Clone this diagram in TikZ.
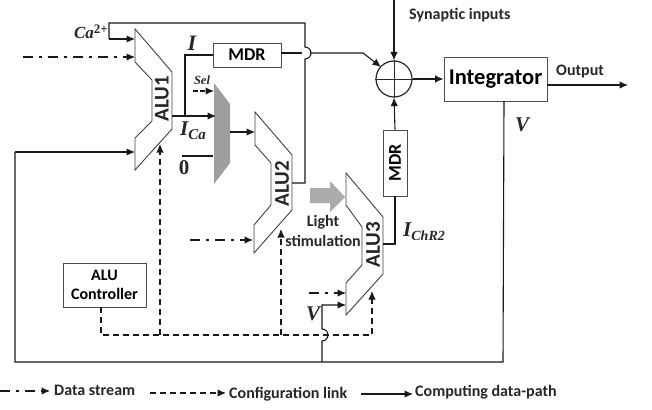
\documentclass[tikz,border=0pt]{standalone}
\usepackage{fontspec}
\setmainfont{Carlito}
\newfontfamily\mathf{Liberation Serif}
\usetikzlibrary{arrows.meta}
\tikzset{
 x=1pt,y=-1pt,
 wire/.style={line width=1.1pt,draw=black!90},
 arr/.style={wire,-{Latex[length=8.5pt,width=7.5pt]}},
 dasharr/.style={arr,dash pattern=on 6pt off 4pt},
 dotarr/.style={arr,dash pattern=on 10pt off 6pt on 3pt off 6pt},
 unit/.style={draw=black!75,line width=0.9pt,fill=white},
 boxn/.style={draw=black!70,line width=0.9pt,fill=white,inner sep=0pt,font=\bfseries},
 lab/.style={font=\bfseries,text=black!85,inner sep=0pt},
 mlab/.style={font=\mathf\bfseries\itshape,text=black!85,inner sep=0pt},
}
\begin{document}
\begin{tikzpicture}
\useasboundingbox (0,0) rectangle (652,409);
% units
\draw[unit] (135,29)--(172,72)--(172,129)--(135,170)--(135,138)--(152,121)--(152,80)--(135,62)--cycle;
\draw[unit] (255,112)--(292,155)--(292,210)--(254,253)--(254,225)--(271,205)--(271,163)--(255,145)--cycle;
\draw[unit] (346,173)--(383,217)--(383,274)--(346,315)--(346,283)--(362,265)--(362,227)--(346,205)--cycle;
\fill[black!38] (214,83)--(230,104)--(230,163)--(214,184)--cycle;
\node[lab,rotate=90,font=\bfseries\fontsize{21}{21}\selectfont] (alua) at (162,99) {ALU1};
\node[lab,rotate=90,font=\bfseries\fontsize{21}{21}\selectfont] (alub) at (282,184) {ALU2};
\node[lab,rotate=90,font=\bfseries\fontsize{21}{21}\selectfont] (aluc) at (373,245) {ALU3};
\node[boxn,minimum width=68pt,minimum height=24pt,font=\bfseries\fontsize{18}{18}\selectfont] (mdra) at (247,55) {MDR};
\node[boxn,rotate=90,minimum width=66pt,minimum height=24pt,font=\bfseries\fontsize{18}{18}\selectfont] (mdrb) at (395,163) {MDR};
\node[boxn,minimum width=103pt,minimum height=44pt,font=\bfseries\fontsize{22.5}{22}\selectfont] (integ) at (495.5,79) {Integrator};
\node[boxn,minimum width=83pt,minimum height=44pt,align=center,font=\bfseries\fontsize{16}{19.5}\selectfont] (ctrl) at (104.5,285) {ALU\\Controller};
\node[draw=black!85,line width=1.2pt,circle,minimum size=36pt,inner sep=0pt] (add) at (394,79) {};
\draw[line width=0.8pt,black!85] (add.west)--(add.east) (add.north)--(add.south);
% coordinates
\coordinate (synin) at (394,0);
\coordinate (cat) at (109,39);
\coordinate (cb) at (109,23);
\coordinate (cc) at (305,23);
\coordinate (cd) at (305,183);
\coordinate (ala) at (135,39);
\coordinate (alb) at (135,57);
\coordinate (dda) at (23,57);
\coordinate (alc) at (135,152);
\coordinate (fb) at (15,152);
\coordinate (fc) at (15,362);
\coordinate (fd) at (503,362);
\coordinate (fe) at (504,101);
\coordinate (muxi) at (216,116);
\coordinate (alo) at (172,116);
\coordinate (ii) at (185,116);
\coordinate (ij) at (185,55);
% wires
\draw[arr] (synin)--(add.north);
\draw[arr] (add.east)--(integ.west);
\draw[arr] (mdrb.east)--(add.south);
\draw[wire] (383,244)--(395,244)--(mdrb.west);
\draw[arr] (547,85)--(628,85);
\draw[wire] (mdra.east |- 0,53)--(302,53);
\draw[arr] (310,53)--(363,53)--(381,67);
\draw[wire] (292,183)--(cd)--(305,59) arc[start angle=-90,end angle=90,radius=6pt]--(cc)--(cb)--(cat);
\draw[arr] (cat)--(ala);
\draw[dotarr] (dda)--(alb);
\draw[wire] (ii)--(ij)--(mdra.west);
\draw[arr] (alo)--(muxi);
\draw[arr,dash pattern=on 5pt off 2pt] (193,91)--(214,91);
\draw[wire] (182,156)--(213,156);
\draw[arr] (230,132)--(255,132);
\draw[wire] (fe)--(fd)--(fc)--(fb);
\draw[arr] (fb)--(alc);
\draw[dotarr] (190,240)--(253,240);
\draw[dotarr] (309,293)--(346,293);
\draw[arr] (322,362)--(322,341) arc[start angle=-90,end angle=90,radius=6pt]--(322,305)--(346,305);
\draw[dasharr] (101,307)--(101,335)--(372,335)--(372,291);
\draw[dasharr] (160,335)--(160,144);
\draw[dasharr] (281,335)--(281,229);
\path[fill=black!33] (310,188)--(330,188)--(330,181)--(345,197)--(330,212)--(330,203)--(310,203)--cycle;
% labels
\node[mlab,font=\mathf\bfseries\itshape\fontsize{17}{17}\selectfont,anchor=east] (lca) at (108,32) {Ca\raisebox{5pt}{\fontsize{13}{13}\selectfont\upshape 2+}};
\node[mlab,font=\mathf\bfseries\itshape\fontsize{22}{22}\selectfont] (li) at (192,43) {I};
\node[mlab,font=\mathf\bfseries\itshape\fontsize{12.5}{12}\selectfont] (lsel) at (202,80) {Sel};
\node[mlab,font=\mathf\bfseries\itshape\fontsize{21}{21}\selectfont,anchor=west] (lica) at (180,131) {I\raisebox{-4pt}{\fontsize{15}{15}\selectfont Ca}};
\node[mlab,font=\mathf\bfseries\fontsize{21}{21}\selectfont] (lz) at (184,168) {0};
\node[mlab,font=\mathf\bfseries\itshape\fontsize{21}{21}\selectfont] (lv) at (522,125) {V};
\node[mlab,font=\mathf\bfseries\itshape\fontsize{21}{21}\selectfont] (lvb) at (313,314) {V};
\node[mlab,font=\mathf\bfseries\itshape\fontsize{21}{21}\selectfont,anchor=west] (lichr) at (403,232) {I\raisebox{-4pt}{\fontsize{14}{14}\selectfont ChR2}};
\node[lab,align=center,font=\bfseries\fontsize{16}{19.5}\selectfont] (llight) at (323,231) {Light\\stimulation};
\node[lab,font=\bfseries\fontsize{16}{16}\selectfont,anchor=west] (lsyn) at (409,15) {Synaptic inputs};
\node[lab,font=\bfseries\fontsize{16}{16}\selectfont,anchor=west] (lout) at (556,72) {Output};
% legend
\coordinate (lga) at (0,391);
\coordinate (lgb) at (50,391);
\draw[dotarr] (lga)--(lgb);
\node[lab,font=\bfseries\fontsize{16}{16}\selectfont,anchor=west] (ldata) at (54,390) {Data stream};
\coordinate (lgc) at (150,393);
\coordinate (lgd) at (226,393);
\draw[dasharr] (lgc)--(lgd);
\node[lab,font=\bfseries\fontsize{16}{16}\selectfont,anchor=west] (lconf) at (229,394) {Configuration link};
\coordinate (lge) at (361,394);
\coordinate (lgf) at (413,394);
\draw[arr] (lge)--(lgf);
\node[lab,font=\bfseries\fontsize{16}{16}\selectfont,anchor=west] (lcomp) at (415,392) {Computing data-path};
\end{tikzpicture}
\end{document}
